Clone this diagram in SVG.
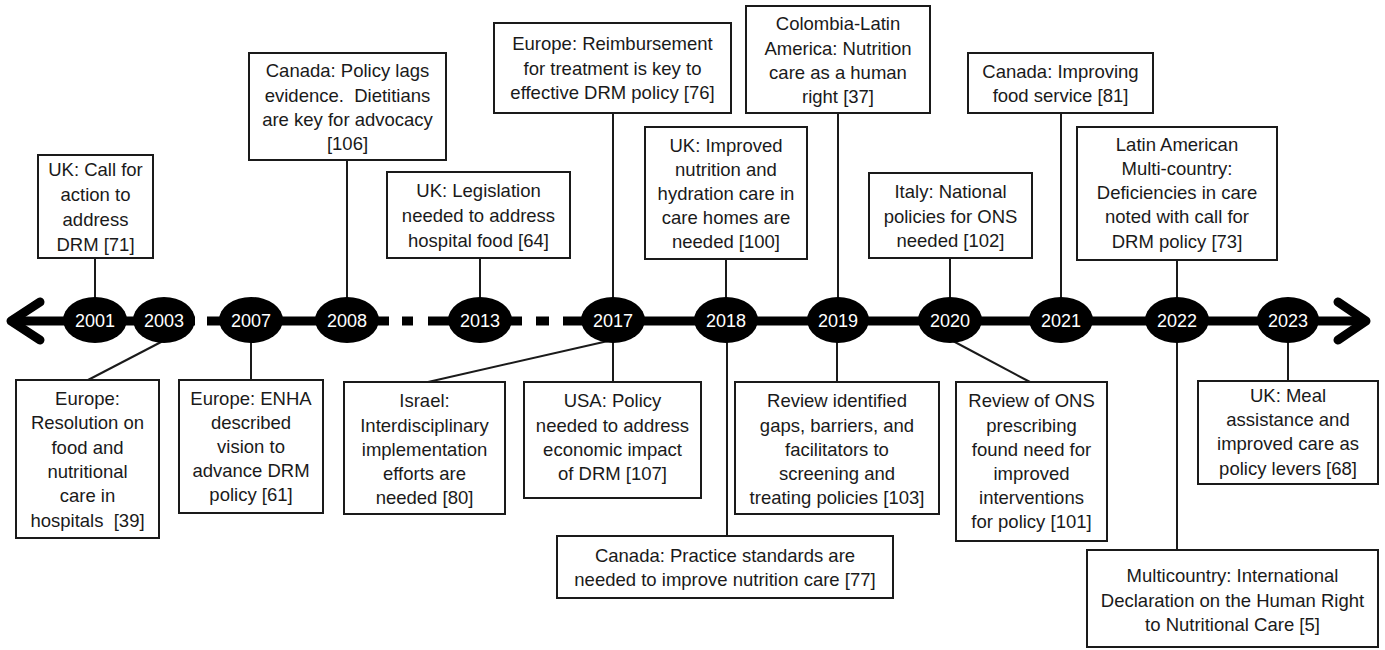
<svg xmlns="http://www.w3.org/2000/svg" width="1385" height="650" viewBox="0 0 1385 650">
<style>
  .box { fill: #fff; stroke: #1a1a1a; stroke-width: 2; }
  .t { font-family: "Liberation Sans", Arial, sans-serif; font-size: 18.5px; fill: #1a1a1a; text-anchor: middle; }
  .yr { font-family: "Liberation Sans", Arial, sans-serif; font-size: 18px; fill: #fff; text-anchor: middle; }
  .conn { stroke: #1a1a1a; stroke-width: 2; fill: none; }
  .tl { stroke: #000; stroke-width: 9; fill: none; }
  .arrow { stroke: #000; stroke-width: 9; fill: none; stroke-linecap: round; stroke-linejoin: round; }
  .yrnode { fill: #000; }
</style>
<rect width="1385" height="650" fill="#fff"/>

<g id="connectors">
  <line class="conn" x1="95" y1="258" x2="95" y2="300"/>
  <line class="conn" x1="163" y1="341" x2="88" y2="380"/>
  <line class="conn" x1="251" y1="341" x2="251" y2="380"/>
  <line class="conn" x1="347" y1="160" x2="347" y2="300"/>
  <line class="conn" x1="480" y1="258" x2="480" y2="300"/>
  <line class="conn" x1="613" y1="113" x2="613" y2="300"/>
  <line class="conn" x1="608" y1="341" x2="428" y2="382"/>
  <line class="conn" x1="613" y1="341" x2="613" y2="382"/>
  <line class="conn" x1="726" y1="259" x2="726" y2="300"/>
  <line class="conn" x1="727" y1="341" x2="727" y2="536"/>
  <line class="conn" x1="838" y1="113" x2="838" y2="300"/>
  <line class="conn" x1="837" y1="341" x2="837" y2="382"/>
  <line class="conn" x1="950" y1="258" x2="950" y2="300"/>
  <line class="conn" x1="953" y1="341" x2="1030" y2="382"/>
  <line class="conn" x1="1061" y1="113" x2="1061" y2="300"/>
  <line class="conn" x1="1177" y1="260" x2="1177" y2="300"/>
  <line class="conn" x1="1177" y1="341" x2="1177" y2="550"/>
  <line class="conn" x1="1288" y1="341" x2="1288" y2="381"/>
</g>

<g id="timeline">
  <line class="tl" x1="14" y1="321" x2="195" y2="321"/>
  <line class="tl" x1="207" y1="321" x2="389" y2="321"/>
  <line class="tl" x1="402" y1="321" x2="413" y2="321"/>
  <line class="tl" x1="428" y1="321" x2="452" y2="321"/>
  <line class="tl" x1="508" y1="321" x2="522" y2="321"/>
  <line class="tl" x1="536" y1="321" x2="549" y2="321"/>
  <line class="tl" x1="563" y1="321" x2="1362" y2="321"/>
  <polyline class="arrow" points="40,302 11,321 40,340"/>
  <polyline class="arrow" points="1338,302 1366,321 1338,340"/>
</g>

<g id="y2001"><ellipse class="yrnode" cx="95" cy="320" rx="32" ry="23"/><text class="yr" x="95" y="326.5">2001</text></g>
<g id="y2003"><ellipse class="yrnode" cx="164" cy="320" rx="31" ry="23"/><text class="yr" x="164" y="327">2003</text></g>
<g id="y2007"><ellipse class="yrnode" cx="251" cy="320" rx="32" ry="23"/><text class="yr" x="251" y="326.5">2007</text></g>
<g id="y2008"><ellipse class="yrnode" cx="347" cy="320" rx="32" ry="23"/><text class="yr" x="347" y="326.5">2008</text></g>
<g id="y2013"><ellipse class="yrnode" cx="480" cy="320" rx="32" ry="23"/><text class="yr" x="480" y="326.5">2013</text></g>
<g id="y2017"><ellipse class="yrnode" cx="613" cy="320" rx="32" ry="23"/><text class="yr" x="613" y="326.5">2017</text></g>
<g id="y2018"><ellipse class="yrnode" cx="726" cy="320" rx="32" ry="23"/><text class="yr" x="726" y="326.5">2018</text></g>
<g id="y2019"><ellipse class="yrnode" cx="838" cy="320" rx="31" ry="23"/><text class="yr" x="838" y="326.5">2019</text></g>
<g id="y2020"><ellipse class="yrnode" cx="950" cy="320" rx="32" ry="23"/><text class="yr" x="950" y="326.5">2020</text></g>
<g id="y2021"><ellipse class="yrnode" cx="1061" cy="320" rx="32" ry="23"/><text class="yr" x="1061" y="326.5">2021</text></g>
<g id="y2022"><ellipse class="yrnode" cx="1177" cy="320" rx="32" ry="23"/><text class="yr" x="1177" y="326.5">2022</text></g>
<g id="y2023"><ellipse class="yrnode" cx="1288" cy="320" rx="31" ry="23"/><text class="yr" x="1288" y="326.5">2023</text></g>

<g id="n2001">
  <rect class="box" x="38" y="155" width="115" height="103"/>
  <text class="t"><tspan x="95.5" y="176">UK: Call for</tspan><tspan x="95.5" y="201">action to</tspan><tspan x="95.5" y="226">address</tspan><tspan x="95.5" y="251">DRM [71]</tspan></text>
</g>
<g id="n2003">
  <rect class="box" x="16" y="380" width="143" height="158"/>
  <text class="t"><tspan x="87.5" y="405">Europe:</tspan><tspan x="87.5" y="429">Resolution on</tspan><tspan x="87.5" y="454">food and</tspan><tspan x="87.5" y="478">nutritional</tspan><tspan x="87.5" y="502">care in</tspan><tspan x="87.5" y="527">hospitals&#160; [39]</tspan></text>
</g>
<g id="n2007">
  <rect class="box" x="179" y="380" width="144" height="133"/>
  <text class="t"><tspan x="251" y="405">Europe: ENHA</tspan><tspan x="251" y="429">described</tspan><tspan x="251" y="453">vision to</tspan><tspan x="251" y="477">advance DRM</tspan><tspan x="251" y="501">policy [61]</tspan></text>
</g>
<g id="n2008">
  <rect class="box" x="249" y="53" width="197" height="107"/>
  <text class="t"><tspan x="347.5" y="77">Canada: Policy lags</tspan><tspan x="347.5" y="102">evidence.&#160; Dietitians</tspan><tspan x="347.5" y="126">are key for advocacy</tspan><tspan x="347.5" y="150">[106]</tspan></text>
</g>
<g id="n2013">
  <rect class="box" x="387" y="172" width="183" height="86"/>
  <text class="t"><tspan x="478.5" y="197">UK: Legislation</tspan><tspan x="478.5" y="222">needed to address</tspan><tspan x="478.5" y="247">hospital food [64]</tspan></text>
</g>
<g id="n2017a">
  <rect class="box" x="494" y="23" width="237" height="90"/>
  <text class="t"><tspan x="612.5" y="50">Europe: Reimbursement</tspan><tspan x="612.5" y="75">for treatment is key to</tspan><tspan x="612.5" y="99">effective DRM policy [76]</tspan></text>
</g>
<g id="n2018a">
  <rect class="box" x="645" y="127" width="162" height="132"/>
  <text class="t"><tspan x="726" y="152">UK: Improved</tspan><tspan x="726" y="176">nutrition and</tspan><tspan x="726" y="200">hydration care in</tspan><tspan x="726" y="224">care homes are</tspan><tspan x="726" y="248">needed [100]</tspan></text>
</g>
<g id="n2019a">
  <rect class="box" x="746" y="6" width="184" height="107"/>
  <text class="t"><tspan x="838" y="30">Colombia-Latin</tspan><tspan x="838" y="55">America: Nutrition</tspan><tspan x="838" y="79">care as a human</tspan><tspan x="838" y="103">right [37]</tspan></text>
</g>
<g id="n2020a">
  <rect class="box" x="869" y="173" width="163" height="85"/>
  <text class="t"><tspan x="950.5" y="198">Italy: National</tspan><tspan x="950.5" y="223">policies for ONS</tspan><tspan x="950.5" y="247">needed [102]</tspan></text>
</g>
<g id="n2021a">
  <rect class="box" x="968" y="53" width="185" height="60"/>
  <text class="t"><tspan x="1060.5" y="78">Canada: Improving</tspan><tspan x="1060.5" y="102">food service [81]</tspan></text>
</g>
<g id="n2022a">
  <rect class="box" x="1077" y="127" width="200" height="133"/>
  <text class="t"><tspan x="1177" y="151">Latin American</tspan><tspan x="1177" y="175">Multi-country:</tspan><tspan x="1177" y="199">Deficiencies in care</tspan><tspan x="1177" y="223">noted with call for</tspan><tspan x="1177" y="248">DRM policy [73]</tspan></text>
</g>
<g id="n2017b">
  <rect class="box" x="344" y="382" width="161" height="132"/>
  <text class="t"><tspan x="424.5" y="407">Israel:</tspan><tspan x="424.5" y="432">Interdisciplinary</tspan><tspan x="424.5" y="456">implementation</tspan><tspan x="424.5" y="480">efforts are</tspan><tspan x="424.5" y="504">needed [80]</tspan></text>
</g>
<g id="n2017c">
  <rect class="box" x="524" y="382" width="177" height="116"/>
  <text class="t"><tspan x="612.5" y="407">USA: Policy</tspan><tspan x="612.5" y="432">needed to address</tspan><tspan x="612.5" y="456">economic impact</tspan><tspan x="612.5" y="480">of DRM [107]</tspan></text>
</g>
<g id="n2018b">
  <rect class="box" x="557" y="536" width="336" height="62"/>
  <text class="t"><tspan x="725" y="562">Canada: Practice standards are</tspan><tspan x="725" y="586">needed to improve nutrition care [77]</tspan></text>
</g>
<g id="n2019b">
  <rect class="box" x="735" y="382" width="204" height="132"/>
  <text class="t"><tspan x="837" y="407">Review identified</tspan><tspan x="837" y="432">gaps, barriers, and</tspan><tspan x="837" y="456">facilitators to</tspan><tspan x="837" y="480">screening and</tspan><tspan x="837" y="504">treating policies [103]</tspan></text>
</g>
<g id="n2020b">
  <rect class="box" x="956" y="382" width="151" height="159"/>
  <text class="t"><tspan x="1031.5" y="407">Review of ONS</tspan><tspan x="1031.5" y="432">prescribing</tspan><tspan x="1031.5" y="456">found need for</tspan><tspan x="1031.5" y="480">improved</tspan><tspan x="1031.5" y="504">interventions</tspan><tspan x="1031.5" y="528">for policy [101]</tspan></text>
</g>
<g id="n2022b">
  <rect class="box" x="1087" y="550" width="291" height="97"/>
  <text class="t"><tspan x="1232.5" y="582">Multicountry: International</tspan><tspan x="1232.5" y="607">Declaration on the Human Right</tspan><tspan x="1232.5" y="631">to Nutritional Care [5]</tspan></text>
</g>
<g id="n2023b">
  <rect class="box" x="1198" y="381" width="180" height="103"/>
  <text class="t"><tspan x="1288" y="402">UK: Meal</tspan><tspan x="1288" y="426">assistance and</tspan><tspan x="1288" y="450">improved care as</tspan><tspan x="1288" y="475">policy levers [68]</tspan></text>
</g>
</svg>
